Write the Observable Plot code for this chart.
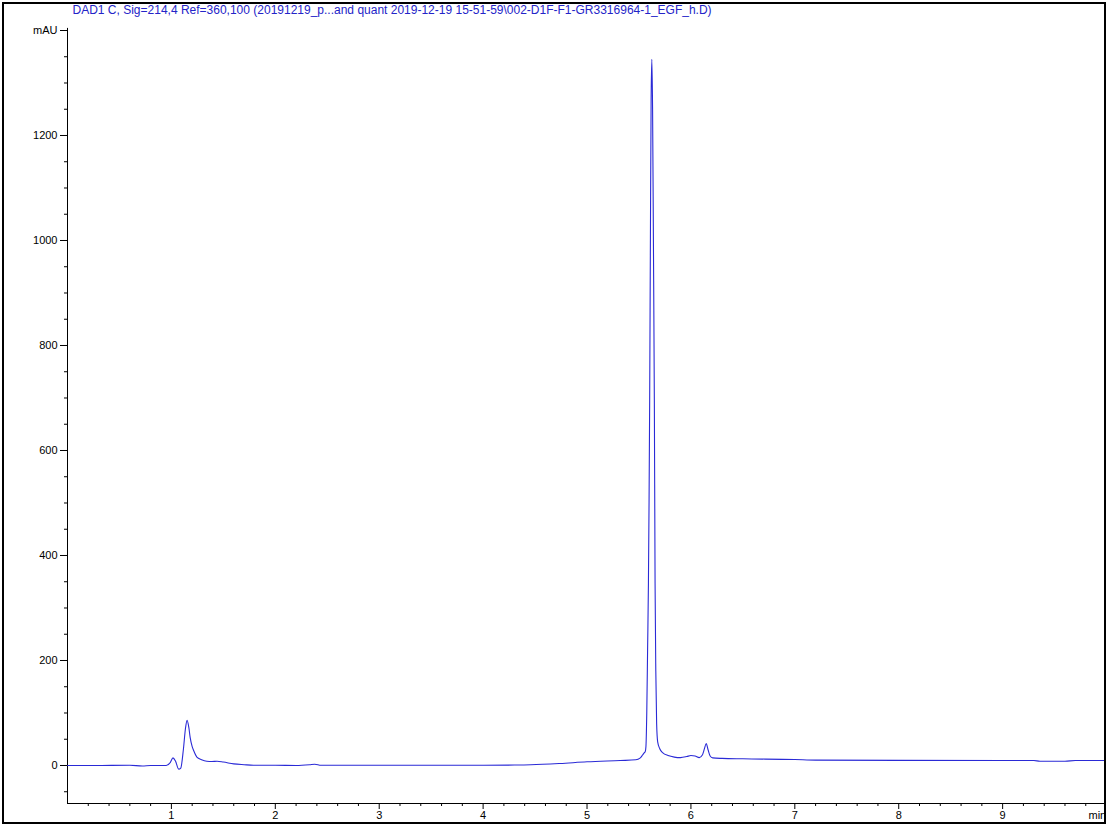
<!DOCTYPE html>
<html><head><meta charset="utf-8">
<script src="https://cdn.jsdelivr.net/npm/d3@7"></script>
<script src="https://cdn.jsdelivr.net/npm/@observablehq/plot@0.6"></script>
<style>
body{margin:0;background:#fff;}
#wrap{position:relative;width:1111px;height:828px;overflow:hidden;}
#border{position:absolute;left:2px;top:2px;width:1104px;height:822px;box-sizing:border-box;border:2px solid #000;pointer-events:none;}
#chart{position:absolute;left:0;top:0;}
</style></head>
<body>
<div id="wrap"><div id="chart"></div><div id="border"></div></div>
<script>
const titleText = "DAD1 C, Sig=214,4 Ref=360,100 (20191219_p...and quant 2019-12-19 15-51-59\\002-D1F-F1-GR3316964-1_EGF_h.D)";
const yUnit = "mAU";
const xUnit = "min";

const times = [
  0, 0.3, 0.6, 0.72, 0.8, 0.95, 0.99, 1.015, 1.04, 1.07, 1.09, 1.115, 1.135, 1.151, 1.168, 1.18, 1.2, 1.215, 1.245, 1.29, 1.34, 1.39, 1.44, 1.5, 1.6, 1.7, 1.79, 2.0, 2.2, 2.33, 2.38, 2.44, 2.7, 3.0, 3.5, 4.0, 4.3,
  4.46, 4.74, 5.0, 5.32, 5.47, 5.51, 5.535, 5.55, 5.56, 5.567, 5.575, 5.583, 5.591, 5.597, 5.603, 5.61, 5.617, 5.624, 5.631, 5.639, 5.648, 5.655, 5.662, 5.67, 5.68, 5.7, 5.73, 5.78, 5.84, 5.9, 5.96, 6.0, 6.04, 6.08, 6.11, 6.13, 6.147, 6.165, 6.185, 6.21, 6.3,
  6.5, 7.0, 7.2, 8.0, 9.0, 9.3, 9.36, 9.6, 9.7, 9.99
];
const mau = [
  0, 0, 0.5, -1, 0, 0, 6, 14.6, 8, -7, -5, 30, 70, 86, 72, 54, 36, 28, 16, 11, 8, 7.5, 8, 6.5, 3, 1.5, 0.5, 0.5, 0, 1.5, 2.5, 0.5, 0.5, 0.5, 0.5, 0.5, 0.8,
  1.3, 3.8, 7, 9.5, 10.8, 14, 20, 24, 26, 36, 100, 220, 347, 500, 695, 1000, 1270, 1345, 1250, 1000, 695, 347, 180, 80, 45, 32, 24, 19, 16, 15, 17, 19, 18, 15, 20, 32, 42, 30, 18, 14.5, 13.5,
  12.7, 11.4, 10.2, 9.8, 9.6, 9.4, 8.2, 8.2, 9.5, 9.5
];

const yMajor = [0, 200, 400, 600, 800, 1000, 1200, 1400];
const yMinor = d3.range(-50, 1400, 50).filter(v => v % 200 !== 0);
const xMajor = [1, 2, 3, 4, 5, 6, 7, 8, 9];
const xMinor = d3.range(1, 50).map(i => +(i * 0.2).toFixed(1)).filter(v => !Number.isInteger(v));

const font = "'Liberation Sans', Arial, sans-serif";

const chart = Plot.plot({
  width: 1111,
  height: 828,
  marginLeft: 67,
  marginRight: 6,
  marginTop: 30,
  marginBottom: 25,
  style: {fontFamily: font, fontSize: "11px", color: "#000", background: "transparent", overflow: "visible"},
  x: {domain: [0, 9.99]},
  y: {domain: [-72.4, 1400]},
  marks: [
    Plot.ruleX([0], {stroke: "#000", strokeWidth: 1, y1: -72.4, y2: 1404}),
    Plot.ruleY([-72.4], {stroke: "#000", strokeWidth: 1}),
    Plot.axisY({ticks: yMajor, tickSize: 7, tickPadding: 3, tickFormat: d => d === 1400 ? yUnit : String(d), label: null, stroke: "#000", fill: "#000", strokeOpacity: 1}),
    Plot.axisY({ticks: yMinor, tickSize: 3, tickFormat: () => "", label: null, stroke: "#000", strokeOpacity: 1}),
    Plot.axisX({ticks: xMajor, tickSize: 6, tickPadding: 2, tickFormat: d => String(d), label: null, stroke: "#000", fill: "#000", strokeOpacity: 1}),
    Plot.axisX({ticks: xMinor, tickSize: 3, tickFormat: () => "", label: null, stroke: "#000", strokeOpacity: 1}),
    Plot.text([xUnit], {frameAnchor: "bottom-right", text: d => d, textAnchor: "start", lineAnchor: "top", dx: -17, dy: 8, fill: "#000"}),
    Plot.text([titleText], {frameAnchor: "top-left", text: d => d, textAnchor: "start", lineAnchor: "top", dx: 5, dy: -25, fill: "#2424c8", fontSize: 12}),
    Plot.line(times, {x: times, y: mau, curve: "monotone-x", stroke: "#2a2ad6", strokeWidth: 1.1})
  ]
});
document.getElementById("chart").appendChild(chart);
</script>
</body></html>
